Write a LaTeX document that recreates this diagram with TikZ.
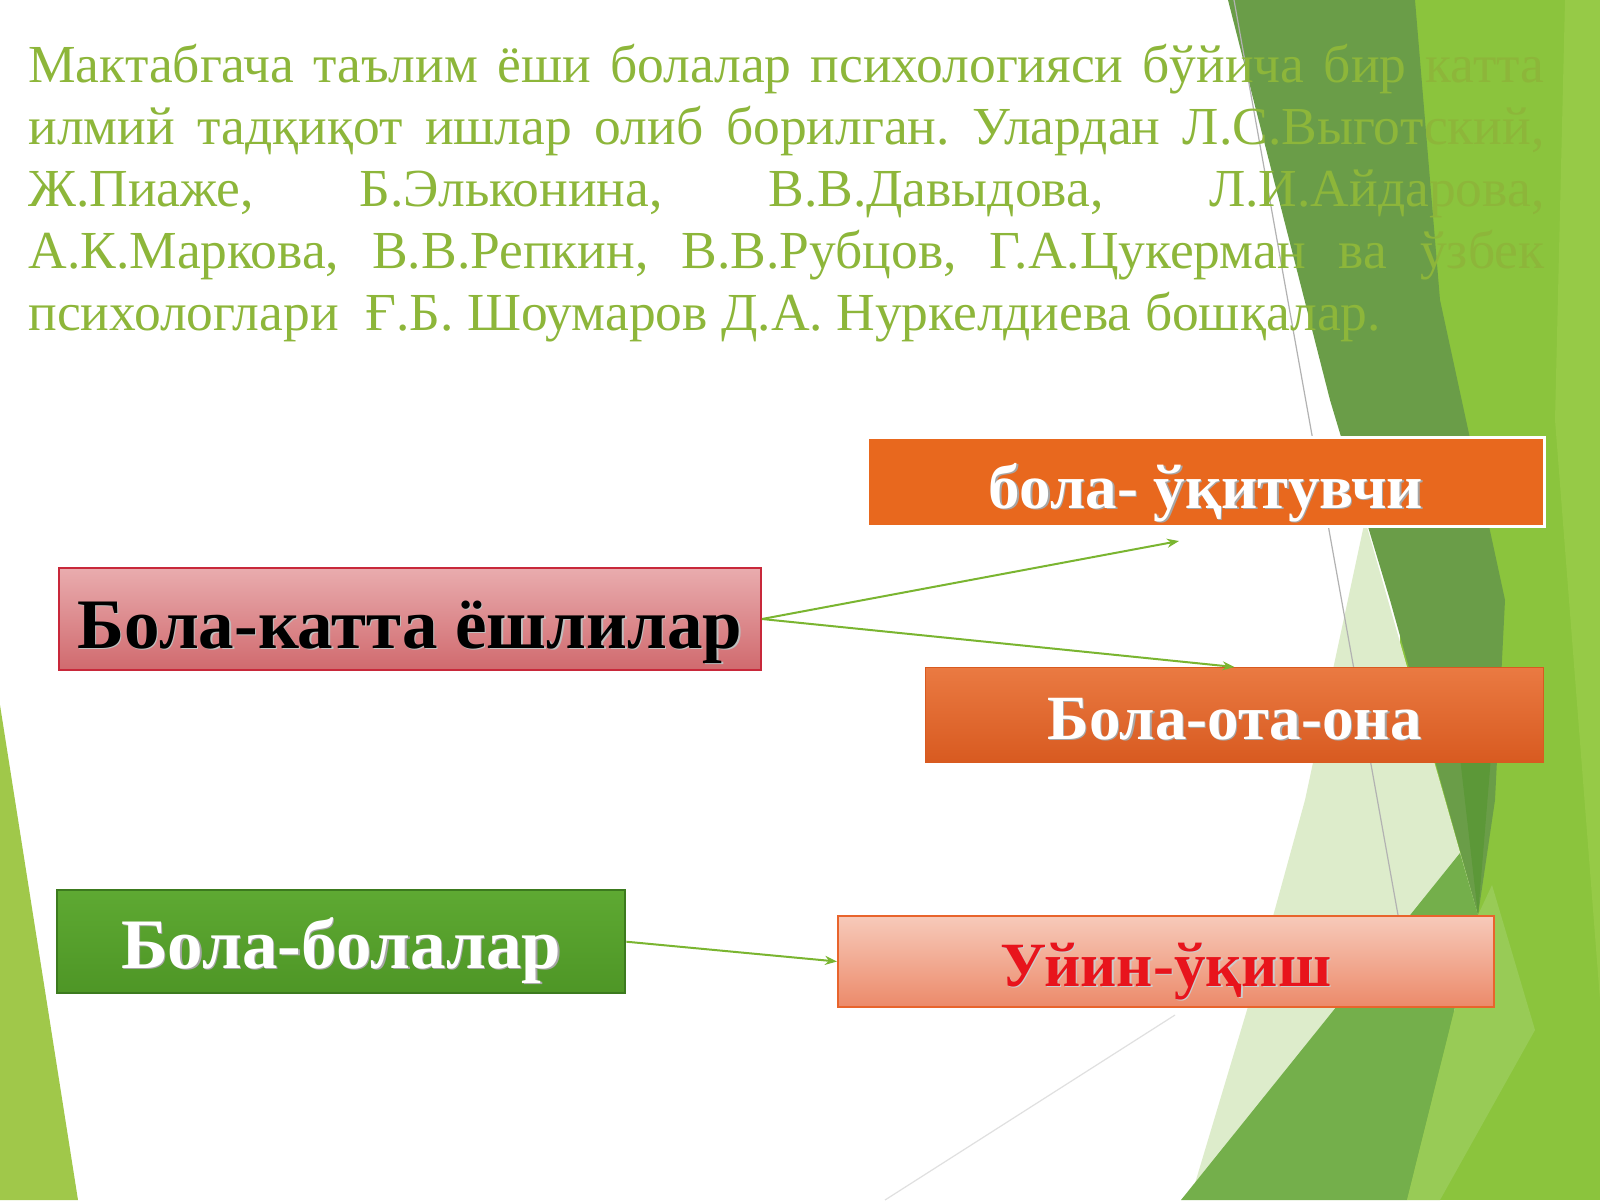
\documentclass[tikz,border=0pt]{standalone}
\usepackage{fontspec}
\setmainfont{Liberation Serif}
\usetikzlibrary{arrows.meta}
\frenchspacing
\definecolor{txtg}{HTML}{8DB63A}
\definecolor{lgreen}{HTML}{8BC43D}
\definecolor{llgreen}{HTML}{96CA47}
\definecolor{dgreen}{HTML}{6A9D48}
\definecolor{ddgreen}{HTML}{5C9838}
\definecolor{mgreen}{HTML}{74AF4B}
\definecolor{pgreen}{HTML}{DDECCB}
\definecolor{bgreen}{HTML}{98CB56}
\definecolor{wedge}{HTML}{A0C84A}
\definecolor{arrg}{HTML}{7AB530}
\definecolor{orng}{HTML}{E8681E}
\definecolor{orngtop}{HTML}{EA7A42}
\definecolor{orngbot}{HTML}{D85A20}
\definecolor{pinktop}{HTML}{E9ACAE}
\definecolor{pinkbot}{HTML}{D06A6E}
\definecolor{pinkedge}{HTML}{C8283A}
\definecolor{grtop}{HTML}{5EA932}
\definecolor{grbot}{HTML}{4E9626}
\definecolor{gredge}{HTML}{3C7A1E}
\definecolor{saltop}{HTML}{F7CABA}
\definecolor{salbot}{HTML}{EC8A6A}
\definecolor{saledge}{HTML}{E8642C}
\definecolor{redtxt}{HTML}{E8141C}
\newcommand\shtxt[2]{\makebox[0pt][l]{\kern0.7pt\raisebox{-0.7pt}{\textcolor{#1}{#2}}}#2}
\tikzset{
  boxnode/.style={anchor=north west, inner sep=0pt, align=center, font=\fontsize{31.5}{36}\selectfont\bfseries},
  bigfont/.style={font=\fontsize{35.5}{40}\selectfont\bfseries},
  bodyline/.style={anchor=base west, inner sep=0pt, text=txtg, font=\fontsize{26.75}{32}\selectfont},
  arr/.style={draw=arrg, line width=1pt, -{Stealth[length=6pt,width=4.5pt]}}
}
\begin{document}
\begin{tikzpicture}[x=0.5pt,y=-0.5pt]
\useasboundingbox (0,0) rectangle (1600,1200);
\fill[white] (0,0) rectangle (1600,1200);
% background facets
\fill[wedge] (0,705) -- (0,1200) -- (78,1200) -- cycle;
\fill[lgreen] (1400,0) -- (1600,0) -- (1600,1200) -- (1400,1200) -- cycle;
\fill[llgreen] (1565,0) -- (1600,0) -- (1600,1000) -- (1555,420) -- cycle;
\fill[pgreen] (1365,520) -- (1478,915) -- (1470,1000) -- (1190,1200) -- (1250,1000) -- (1305,800) -- cycle;
\fill[dgreen] (1228,0) -- (1415,0) -- (1440,300) -- (1505,600) -- (1495,800) -- (1478,915) -- (1390,600) -- (1330,400) -- cycle;
\fill[ddgreen] (1458,740) -- (1494,720) -- (1478,915) -- cycle;
\fill[mgreen] (1181,1200) -- (1460,853) -- (1478,915) -- (1407,1200) -- cycle;
\fill[bgreen] (1478,915) -- (1492,885) -- (1535,1030) -- (1440,1200) -- (1407,1200) -- cycle;
\draw[black!30, line width=0.6pt] (1234,0) -- (1398,915);
\draw[black!12, line width=0.6pt] (1175,1015) -- (885,1200);
% body text
\node[bodyline] (t1) at (28,82) {\makebox[758pt][s]{Мактабгача таълим ёши болалар психологияси бўйича бир катта}};
\node[bodyline] (t2) at (28,144) {\makebox[758pt][s]{илмий тадқиқот ишлар олиб борилган. Улардан Л.С.Выготский,}};
\node[bodyline] (t3) at (28,206) {\makebox[758pt][s]{Ж.Пиаже, Б.Эльконина, В.В.Давыдова, Л.И.Айдарова,}};
\node[bodyline] (t4) at (28,268) {\makebox[758pt][s]{А.К.Маркова, В.В.Репкин, В.В.Рубцов, Г.А.Цукерман ва ўзбек}};
\node[bodyline] (t5) at (28,330) {психологлари\ \ Ғ.Б. Шоумаров Д.А. Нуркелдиева бошқалар.};
% boxes
\node[boxnode, fill=orng, draw=white, line width=1.5pt, minimum width=338.5pt, minimum height=44.5pt, text height=33.5pt, text depth=7pt, text=white] (bu) at (866,436) {\shtxt{black!35}{бола- ўқитувчи}};
\node[boxnode, top color=orngtop, bottom color=orngbot, draw=orngbot, line width=0.5pt, minimum width=309pt, minimum height=47.5pt, text height=31.5pt, text depth=7pt, text=white] (bo) at (925,667) {\shtxt{black!35}{Бола-ота-она}};
\node[boxnode, bigfont, top color=pinktop, bottom color=pinkbot, draw=pinkedge, line width=1pt, minimum width=351pt, minimum height=51pt, text height=37pt, text depth=8pt, text=black] (bk) at (58,567) {\shtxt{black!25}{Бола-катта ёшлилар}};
\node[boxnode, bigfont, top color=grtop, bottom color=grbot, draw=gredge, line width=1.2pt, minimum width=284pt, minimum height=51.5pt, text height=34.5pt, text depth=8pt, text=white] (bb) at (56,889) {\shtxt{black!35}{Бола-болалар}};
\node[boxnode, top color=saltop, bottom color=salbot, draw=saledge, line width=1pt, minimum width=328pt, minimum height=45.5pt, text height=31.5pt, text depth=7pt, text=redtxt] (uu) at (837,915) {\shtxt{black!20}{Уйин-ўқиш}};
% connectors
\coordinate (a1end) at (1179,541);
\draw[arr] (bk.east) -- (a1end);
\draw[arr] (bk.east) -- (bo.north);
\draw[arr] (bb.east) -- (uu.west);
\end{tikzpicture}
\end{document}
